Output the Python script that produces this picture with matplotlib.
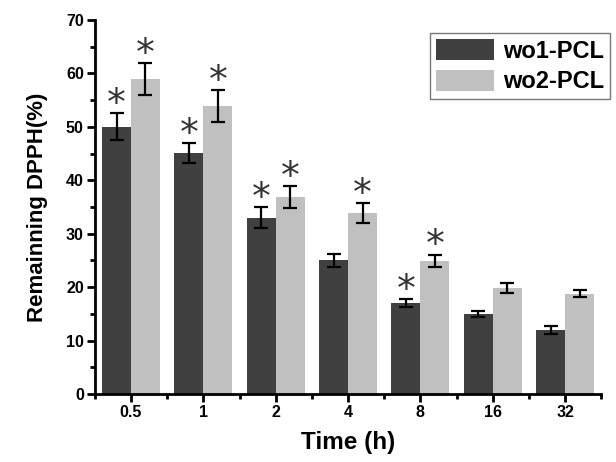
import matplotlib
matplotlib.use("Agg")
import matplotlib.pyplot as plt
import numpy as np
from matplotlib.ticker import MultipleLocator, FixedLocator

plt.rcParams['font.family'] = ['Liberation Sans', 'DejaVu Sans']

times = ["0.5", "1", "2", "4", "8", "16", "32"]
wo1 = [50.0, 45.1, 33.0, 25.0, 17.0, 15.0, 12.0]
wo1_err = [2.5, 1.85, 2.0, 1.25, 0.8, 0.55, 0.7]
wo2 = [58.9, 53.9, 36.9, 33.9, 24.9, 19.9, 18.8]
wo2_err = [3.0, 3.0, 2.0, 1.85, 1.15, 0.95, 0.7]
wo1_star = [True, True, True, False, True, False, False]
wo2_star = [True, True, True, True, True, False, False]
labels = ["wo1-PCL", "wo2-PCL"]

fig = plt.figure(figsize=(6.16, 4.62), dpi=100)
ax = fig.add_axes([0.154, 0.147, 0.822, 0.81])

x = np.arange(len(times))
w = 0.40
ekw = dict(elinewidth=1.6, capthick=1.6, ecolor="black")
ax.bar(x - w/2, wo1, w, yerr=wo1_err, color="#404040", capsize=4.8, error_kw=ekw, label=labels[0])
ax.bar(x + w/2, wo2, w, yerr=wo2_err, color="#c0c0c0", capsize=4.8, error_kw=ekw, label=labels[1])

star_kw = dict(textcoords="offset points", ha="center", va="center",
               fontsize=27, color="#333333", family="DejaVu Sans")
for i in range(len(times)):
    if wo1_star[i]:
        ax.annotate("*", xy=(x[i] - w/2, wo1[i] + wo1_err[i]), xytext=(0, 6), **star_kw)
    if wo2_star[i]:
        ax.annotate("*", xy=(x[i] + w/2, wo2[i] + wo2_err[i]), xytext=(0, 6), **star_kw)

ax.set_xlim(-0.5, 6.5)
ax.set_ylim(0, 70)
ax.set_xticks(x)
ax.set_xticklabels(times, fontsize=11.5, fontweight="bold")
ax.xaxis.set_minor_locator(FixedLocator(np.arange(-0.5, 7, 1)))
ax.yaxis.set_major_locator(MultipleLocator(10))
ax.yaxis.set_minor_locator(MultipleLocator(5))
for lab in ax.get_yticklabels():
    lab.set_fontsize(11.5)
    lab.set_fontweight("bold")
ax.tick_params(which="major", direction="out", length=6, width=2, pad=2)
ax.tick_params(which="minor", direction="out", length=3.5, width=2)
ax.spines["top"].set_visible(False)
ax.spines["right"].set_visible(False)
ax.spines["left"].set_linewidth(2)
ax.spines["bottom"].set_linewidth(2)

ax.set_xlabel("Time (h)", fontsize=17.5, fontweight="bold", labelpad=8)
ax.set_ylabel("Remainning DPPH(%)", fontsize=16, fontweight="bold", labelpad=13)

leg = fig.legend(loc="upper left", bbox_to_anchor=(430/616, 1 - 33/462),
                 bbox_transform=fig.transFigure,
                 prop={"weight": "bold", "size": 17}, frameon=True, fancybox=False,
                 edgecolor="#555555", handlelength=2.46, handleheight=1.0,
                 handletextpad=0.4, borderpad=0.25, labelspacing=0.3,
                 borderaxespad=0)
leg.get_frame().set_linewidth(1.0)

fig.savefig("out.png", dpi=100)
